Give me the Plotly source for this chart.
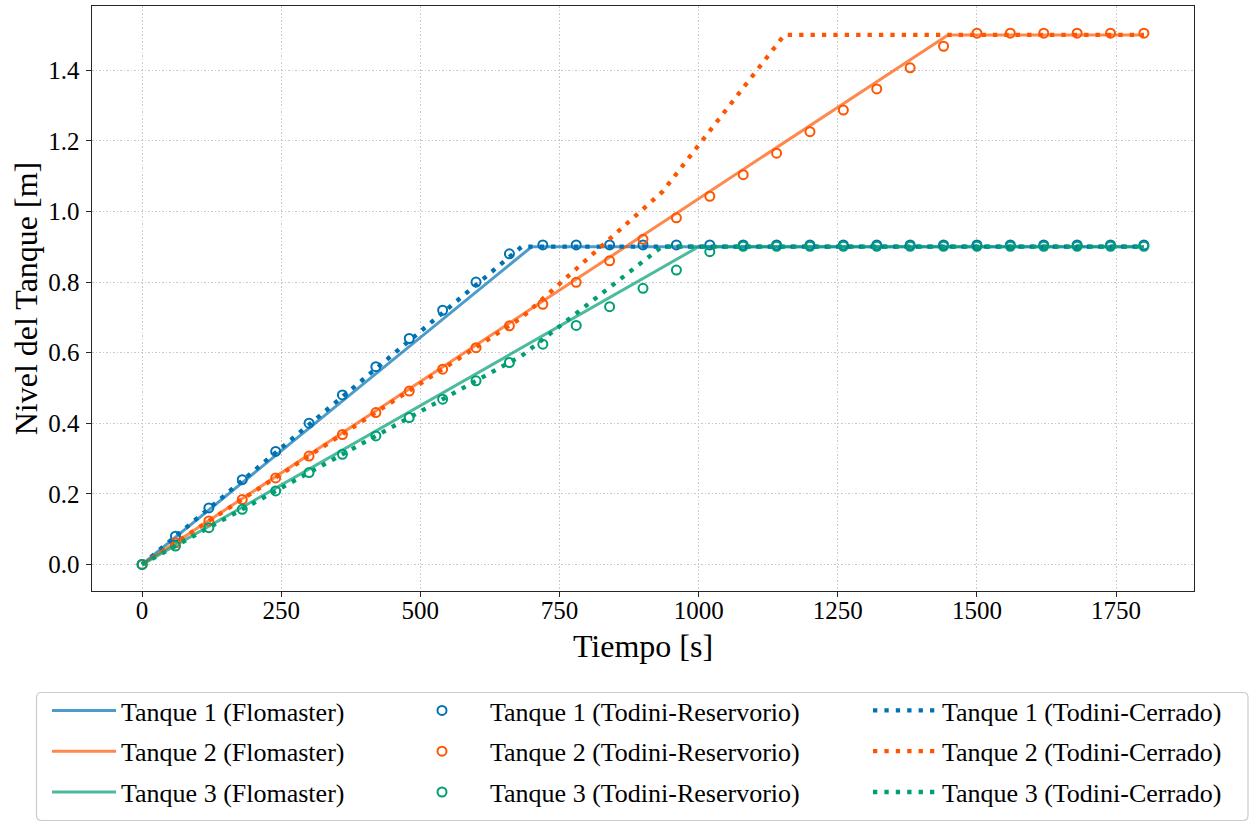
import plotly.graph_objects as go

# ---- data: tank levels [m] versus time [s] ----
t_res = list(range(0, 1801, 60))

tank1_res = [0.0, 0.08, 0.16, 0.24, 0.32, 0.40, 0.48, 0.56, 0.64, 0.72, 0.80, 0.88,
             0.905, 0.905, 0.905, 0.905, 0.905, 0.905, 0.905, 0.905, 0.905, 0.905,
             0.905, 0.905, 0.905, 0.905, 0.905, 0.905, 0.905, 0.905, 0.905]
tank2_res = [0.0, 0.061, 0.123, 0.184, 0.245, 0.307, 0.368, 0.430, 0.491, 0.553,
             0.614, 0.676, 0.737, 0.799, 0.860, 0.921, 0.982, 1.043, 1.104, 1.165,
             1.226, 1.287, 1.347, 1.407, 1.468, 1.505, 1.505, 1.505, 1.505, 1.505, 1.505]
tank3_res = [0.0, 0.052, 0.104, 0.156, 0.208, 0.260, 0.312, 0.364, 0.416, 0.468,
             0.520, 0.572, 0.624, 0.677, 0.730, 0.782, 0.834, 0.886, 0.901, 0.901,
             0.901, 0.901, 0.901, 0.901, 0.901, 0.901, 0.901, 0.901, 0.901, 0.901, 0.901]

t1_flo = [0, 700, 1800]
h1_flo = [0.0, 0.9, 0.9]
t2_flo = [0, 1448, 1800]
h2_flo = [0.0, 1.5, 1.5]
t3_flo = [0, 1000, 1800]
h3_flo = [0.0, 0.9, 0.9]

t1_cer = [0, 682, 1800]
h1_cer = [0.0, 0.9, 0.9]
t2_cer = [0, 682, 935, 1154, 1800]
h2_cer = [0.0, 0.699, 1.056, 1.5, 1.5]
t3_cer = [0, 682, 934, 1800]
h3_cer = [0.0, 0.591, 0.9, 0.9]

x_ticks = [0, 250, 500, 750, 1000, 1250, 1500, 1750]
y_ticks = [0.0, 0.2, 0.4, 0.6, 0.8, 1.0, 1.2, 1.4]

names_flo = ["Tanque 1 (Flomaster)", "Tanque 2 (Flomaster)", "Tanque 3 (Flomaster)"]
names_res = ["Tanque 1 (Todini-Reservorio)", "Tanque 2 (Todini-Reservorio)",
             "Tanque 3 (Todini-Reservorio)"]
names_cer = ["Tanque 1 (Todini-Cerrado)", "Tanque 2 (Todini-Cerrado)",
             "Tanque 3 (Todini-Cerrado)"]

# ---- styling ----
colors = [(0, 114, 178), (255, 85, 0), (0, 158, 115)]
FONT = "Liberation Serif"
W, H = 1250, 822
ML, MR, MT, MB = 92, 56, 6, 231
PW, PH = W - ML - MR, H - MT - MB


def rgba(c, a=1.0):
    return f"rgba({c[0]},{c[1]},{c[2]},{a})"


def px_x(px):
    return (px - ML) / PW


def px_y(py):
    return (H - MB - py) / PH


fig = go.Figure()

flo = [(t1_flo, h1_flo), (t2_flo, h2_flo), (t3_flo, h3_flo)]
res = [tank1_res, tank2_res, tank3_res]
cer = [(t1_cer, h1_cer), (t2_cer, h2_cer), (t3_cer, h3_cer)]

for i, (t, h) in enumerate(flo):
    fig.add_trace(go.Scatter(
        x=t, y=h, mode="lines", name=names_flo[i],
        line=dict(color=rgba(colors[i], 0.7), width=3),
        legend="legend", legendgroup=f"f{i}"))

for i, h in enumerate(res):
    fig.add_trace(go.Scatter(
        x=t_res, y=h, mode="markers", name=names_res[i],
        marker=dict(symbol="circle-open", size=9, color=rgba(colors[i]),
                    line=dict(width=2, color=rgba(colors[i]))),
        legend="legend2", legendgroup=f"r{i}"))

for i, (t, h) in enumerate(cer):
    fig.add_trace(go.Scatter(
        x=t, y=h, mode="lines", name=names_cer[i],
        line=dict(color=rgba(colors[i]), width=4.3, dash="4.3px,7.1px"),
        legend="legend3", legendgroup=f"c{i}"))

axis_common = dict(
    showline=True, linecolor="#262626", linewidth=1.2, mirror=True,
    ticks="outside", ticklen=4.5, tickwidth=1.2, tickcolor="#262626",
    showgrid=True, gridcolor="#c8c8c8", gridwidth=1, griddash="1.5px,2px",
    zeroline=False,
    tickfont=dict(family=FONT, size=25, color="#000000"),
)

fig.update_xaxes(
    range=[-90, 1890], tickvals=x_ticks, ticklabelstandoff=-8,
    title=dict(text="Tiempo [s]", font=dict(family=FONT, size=32, color="#000000"),
               standoff=12),
    **axis_common)
fig.update_yaxes(
    range=[-0.0754, 1.582], tickvals=y_ticks, tickformat=".1f", ticklabelstandoff=2,
    title=dict(text="Nivel del Tanque [m]",
               font=dict(family=FONT, size=32, color="#000000"), standoff=0),
    **axis_common)

leg_common = dict(
    orientation="v", xanchor="left", yanchor="top",
    bgcolor="rgba(0,0,0,0)", borderwidth=0,
    font=dict(family=FONT, size=26, color="#000000"),
    tracegroupgap=4, itemclick=False, itemdoubleclick=False,
)

legend_top = px_y(687)
fig.update_layout(
    width=W, height=H,
    margin=dict(l=ML, r=MR, t=MT, b=MB),
    paper_bgcolor="white", plot_bgcolor="white",
    legend=dict(x=px_x(47), y=legend_top, itemwidth=64, **leg_common),
    legend2=dict(x=px_x(394), y=legend_top, itemwidth=86, **leg_common),
    legend3=dict(x=px_x(868), y=legend_top, itemwidth=64, **leg_common),
)

# rounded frame around the three legend columns
x0, x1 = px_x(36.5), px_x(1248)
y0, y1 = px_y(820.5), px_y(692.5)
rx, ry = 5 / PW, 5 / PH
frame = (f"M {x0 + rx},{y1} L {x1 - rx},{y1} Q {x1},{y1} {x1},{y1 - ry} "
         f"L {x1},{y0 + ry} Q {x1},{y0} {x1 - rx},{y0} "
         f"L {x0 + rx},{y0} Q {x0},{y0} {x0},{y0 + ry} "
         f"L {x0},{y1 - ry} Q {x0},{y1} {x0 + rx},{y1} Z")
fig.add_shape(type="path", path=frame, xref="paper", yref="paper",
              line=dict(color="#cccccc", width=1.2), fillcolor="rgba(255,255,255,0.8)",
              layer="below")

fig.write_html("out.html")
